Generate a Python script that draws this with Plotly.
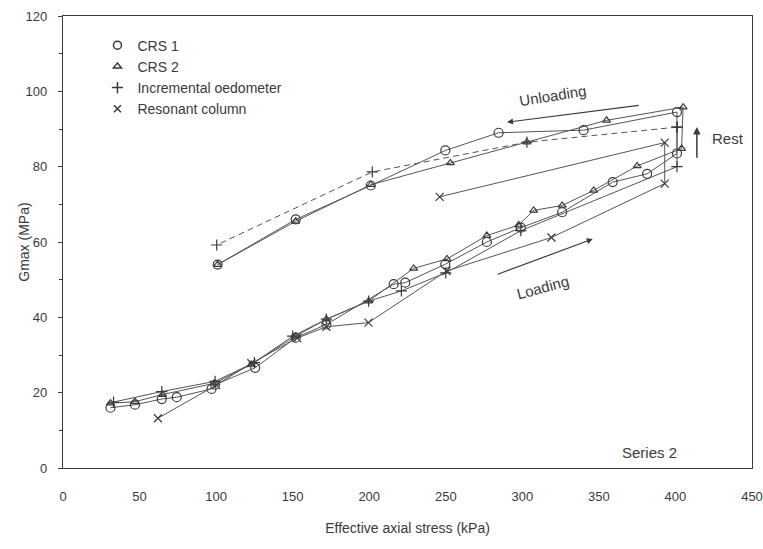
import plotly.graph_objects as go

# CRS 1 (circles): loading, rest, unloading
crs1_x = [31, 47, 64.5, 74.3, 97, 99.3, 125.5, 152, 172, 216, 223.5, 249.7, 276.8, 299, 326, 359, 381.5, 401,
          401, 340, 284.5, 249.7, 201, 152, 101]
crs1_y = [16, 16.8, 18.3, 18.8, 21, 22.1, 26.6, 34.6, 38.1, 48.8, 49.2, 54.1, 60, 63.8, 67.9, 75.9, 78.1, 83.5,
          94.5, 89.7, 89, 84.3, 75, 66, 54]

# CRS 2 (triangles)
crs2_x = [31, 47, 65, 99, 123, 152, 172, 199.6, 229, 250.8, 276.8, 297.6, 307.4, 326, 346.6, 375, 404,
          405, 355, 303, 253, 201, 152, 101]
crs2_y = [17.2, 17.6, 19.5, 22.5, 27.5, 35, 39.5, 44.3, 53, 55.5, 61.7, 64.5, 68.4, 69.7, 73.7, 80.2, 84.8,
          95.8, 92.3, 86.5, 81, 75.2, 65.5, 54]

# Incremental oedometer (+): loading, rest, unloading
oed_load_x = [33, 64.5, 99.3, 125, 150, 172, 199.6, 221, 250, 299, 401, 401]
oed_load_y = [17.5, 20.3, 23, 28, 35, 39.5, 44.3, 47, 51.8, 63, 80, 90.5]
oed_unl_x = [401, 303, 202, 100.4]
oed_unl_y = [90.5, 86.5, 78.6, 59.2]

# Resonant column (x)
rc_x = [62, 100, 123, 153, 172, 199.5, 250.5, 319, 393, 393, 246]
rc_y = [13.2, 22, 27.8, 34.5, 37.5, 38.6, 52.3, 61.2, 75.5, 86.4, 72]

x_ticks = [0, 50, 100, 150, 200, 250, 300, 350, 400, 450]
y_ticks = [0, 20, 40, 60, 80, 100, 120]

INK = "#3a3a3a"
LINE = "#555555"

fig = go.Figure()

def series(x, y, symbol, size, dash="solid"):
    fig.add_trace(go.Scatter(
        x=x, y=y, mode="lines+markers", showlegend=False,
        line=dict(color=LINE, width=1, dash=dash),
        marker=dict(symbol=symbol, size=size, color=INK,
                    line=dict(color=INK, width=1.2)),
    ))

series(crs1_x, crs1_y, "circle-open", 9)
series(crs2_x, crs2_y, "triangle-up-open", 7)
series(oed_load_x, oed_load_y, "cross-thin-open", 8)
series(oed_unl_x, oed_unl_y, "cross-thin-open", 8, dash="6px,4px")
series(rc_x, rc_y, "x-thin-open", 8)

# legend entries (markers only)
for name, sym, sz in [("CRS 1", "circle-open", 8), ("CRS 2", "triangle-up-open", 7),
                      ("Incremental oedometer", "cross-thin-open", 8),
                      ("Resonant column", "x-thin-open", 7)]:
    fig.add_trace(go.Scatter(x=[None], y=[None], mode="markers", name=name,
                             marker=dict(symbol=sym, size=sz, color=INK,
                                         line=dict(color=INK, width=1.5))))

font = dict(family="Liberation Sans, Arial, sans-serif", size=13, color=INK)
AF = dict(size=15, color=INK)

annotations = [
    dict(x=320, y=99, text="Unloading", showarrow=False, textangle=-9, font=AF),
    dict(x=313, y=48, text="Loading", showarrow=False, textangle=-15, font=AF),
    dict(x=422.6, y=87.5, text="Rest", showarrow=False, xanchor="left", font=AF),
    dict(x=383, y=4.0, text="Series 2", showarrow=False, xanchor="center", font=AF),
    # y-axis title
    dict(x=-0.057, y=0.5, xref="paper", yref="paper", xanchor="center", yanchor="middle",
         text="Gmax (MPa)", showarrow=False, textangle=-90, font=dict(size=14, color=INK)),
    # arrows
    dict(x=290, y=91.8, ax=377, ay=96.3, xref="x", yref="y", axref="x", ayref="y", text="",
         showarrow=True, arrowhead=2, arrowsize=1, arrowwidth=1.2, arrowcolor=INK),
    dict(x=346, y=60.8, ax=283, ay=51.3, xref="x", yref="y", axref="x", ayref="y", text="",
         showarrow=True, arrowhead=2, arrowsize=1, arrowwidth=1.2, arrowcolor=INK),
    dict(x=414, y=90.5, ax=414, ay=82.0, xref="x", yref="y", axref="x", ayref="y", text="",
         showarrow=True, arrowhead=2, arrowsize=1, arrowwidth=1.5, arrowcolor=INK),
]

fig.update_layout(
    width=763, height=549,
    margin=dict(l=63, r=11, t=16, b=81),
    paper_bgcolor="white", plot_bgcolor="white",
    font=font,
    showlegend=True,
    legend=dict(x=0.05, y=0.97, xanchor="left", yanchor="top", bgcolor="rgba(0,0,0,0)",
                font=dict(size=14, color=INK), tracegroupgap=0, itemwidth=30),
    annotations=annotations,
    xaxis=dict(range=[0, 450], tickvals=x_ticks, ticktext=[str(v) for v in x_ticks],
               showgrid=False, zeroline=False, showline=True, linecolor=INK, linewidth=1.2,
               mirror=True, ticks="", ticklabelstandoff=16, automargin=False,
               tickfont=dict(size=13, color=INK),
               title=dict(text="Effective axial stress (kPa)", standoff=20, font=dict(size=14, color=INK))),
    yaxis=dict(range=[0, 120], tickvals=y_ticks, ticktext=[str(v) for v in y_ticks],
               showgrid=False, zeroline=False, showline=True, linecolor=INK, linewidth=1.2,
               mirror=True, ticks="outside", ticklen=4, tickcolor=INK, ticklabelstandoff=8,
               automargin=False, tickfont=dict(size=13, color=INK),
               minor=dict(dtick=10, ticks="outside", ticklen=3, tickcolor=INK)),
)

fig.write_html("out.html")
